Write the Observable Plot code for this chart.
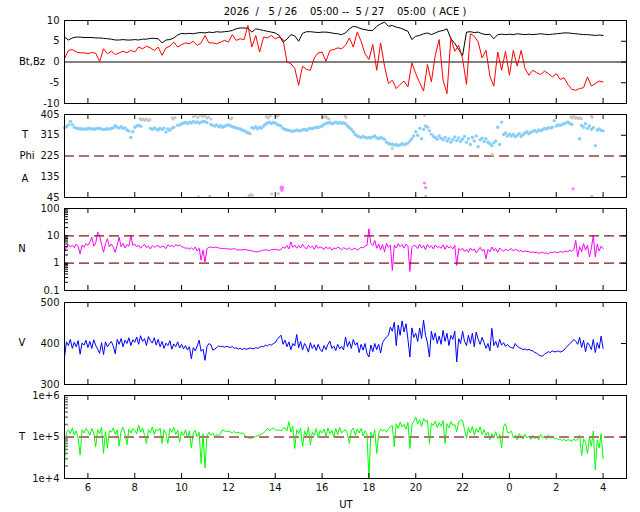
<!DOCTYPE html>
<html><head><meta charset="utf-8">
<script src="https://cdn.jsdelivr.net/npm/d3@7"></script>
<script src="https://cdn.jsdelivr.net/npm/@observablehq/plot@0.6"></script>
<style>
html,body{margin:0;padding:0;background:#fff;}
#root{position:relative;width:640px;height:512px;overflow:hidden;font-family:"DejaVu Sans",sans-serif;font-size:10px;color:#000;background:#fff;}
.lbl{position:absolute;white-space:pre;line-height:1;}
</style></head>
<body><div id="root"></div>
<script>
// ---------- time grid ----------
const startHour = 5;            // 05:00 UT on 5/26
const bStepMin = 10;            // magnetic field samples
const fineStepMin = 5;          // plasma samples
const xTicks = [6, 8, 10, 12, 14, 16, 18, 20, 22, 24, 26, 28];

// ---------- panel 1: Bt (black), Bz (red), nT ----------
const btValues = [
  6.0,5.3,5.8,6.0,6.0,5.9, 5.9,5.9,5.8,5.8,5.7,5.6, 5.5,5.3,5.3,5.4,5.3,5.3, 5.4,5.3,5.5,5.5,5.7,5.7,
  5.6,4.6,5.3,5.4,5.8,6.5, 6.9,6.8,6.9,6.8,7.0,7.1, 7.0,7.2,7.1,7.3,7.2,7.3, 7.4,7.6,8.0,8.2,8.2,8.1,
  7.2,8.0,7.8,7.6,7.4,7.2, 7.0,6.4,4.8,5.5,6.6,6.3, 5.0,6.9,7.3,7.3,7.2,7.1, 7.2,7.2,7.1,6.9,6.8,6.6,
  7.0,8.0,8.6,8.4,8.0,7.8, 7.6,7.6,8.6,9.2,9.6,8.6, 8.8,8.4,8.2,7.8,7.4,5.4, 6.2,6.4,6.8,7.0,6.6,7.0,
  7.4,7.6,8.0,5.6,4.5,3.0, 1.6,7.2,7.3,7.1,7.2,6.8, 6.6,6.7,5.6,6.6,6.7,6.6, 6.7,6.6,6.8,6.7,6.6,6.7,
  6.6,6.7,6.8,6.7,6.6,6.7, 6.8,6.9,7.0,7.0,6.9,6.8, 6.7,6.6,6.6,6.5,6.4,6.5, 6.4
];
const bzValues = [
  0.8,2.8,3.0,2.4,2.2,2.2, 2.0,2.3,2.1,0.1,3.2,2.0, 2.6,1.8,2.2,2.6,2.2,2.8, 2.4,3.6,3.2,3.8,3.4,2.8,
  3.6,1.6,3.4,3.8,4.8,3.6, 4.2,4.6,4.4,5.0,4.0,4.6, 6.4,4.6,4.6,4.4,4.8,5.2, 4.8,6.6,5.2,5.6,5.4,8.8,
  3.6,6.4,2.4,6.0,5.8,6.4, 5.6,6.0,5.4,0.0,-0.4,-1.5, -5.6,-1.0,-1.8,-2.0,1.0,2.2, 2.4,0.2,2.8,3.0,3.4,3.2,
  4.0,5.8,3.6,7.2,5.0,2.0, 0.6,4.2,-2.0,4.6,-1.0,-5.2, -4.4,-6.4,-5.4,-4.6,-6.0,-0.2, -2.8,-5.0,-7.0,-0.6,-4.8,1.6,
  5.4,-4.4,-7.6,5.8,2.6,4.0, 0.8,-5.4,6.8,6.2,4.8,1.0, 2.8,-3.4,-5.8,2.4,-2.0,2.6, -3.2,2.8,-1.0,2.8,-1.6,-3.2,
  -2.0,-2.6,-3.0,-2.2,-2.8,-3.6, -2.8,-4.2,-3.8,-5.4,-6.6,-6.8, -6.4,-6.2,-3.6,-5.8,-5.2,-4.6, -4.8
];
const bTicks = [-10, -5, 0, 5, 10];

// ---------- panel 2: Phi (deg) ----------
const phiValues = [
  348,352,360,375,362,350,346,344,342,343,341,342,
  343,344,342,341,343,345,344,342,340,341,343,342,
  344,347,356,350,346,352,345,348,338,333,305,330,
  350,355,357,354,null,null,null,null,345,340,347,342,
  338,344,340,346,329,342,336,345,350,null,358,360,
  365,368,370,366,372,368,375,370,373,368,372,376,
  374,370,null,362,358,355,360,352,356,350,354,357,
  360,356,352,350,347,345,342,338,335,330,326,322,
  348,345,352,343,350,346,355,362,368,372,366,370,
  368,362,358,355,345,340,338,336,334,332,335,338,
  334,336,338,340,337,342,345,343,347,350,348,352,
  355,362,366,368,370,365,368,372,367,370,366,369,
  365,355,348,340,330,318,312,308,305,310,306,303,
  306,303,308,312,304,300,305,302,298,285,280,276,
  276,272,275,270,273,278,274,277,281,290,300,312,
  330,315,345,300,340,355,350,335,320,310,305,298,
  312,302,295,305,290,300,285,296,308,292,303,288,
  298,310,285,300,275,305,290,312,265,295,302,288,
  300,285,278,270,282,290,350,275,372,318,325,312,
  320,312,318,308,315,322,310,318,325,330,322,328,
  332,336,330,338,334,340,344,342,348,346,350,378,
  355,360,357,362,365,368,372,366,362,null,null,null,
  300,358,350,365,345,355,340,348,270,338,342,336,
  334
];
const phiGrayTimes = [8.22,8.28,8.35,8.42,8.5,8.58,8.65,9.6,9.65,9.72,10.5,10.6,10.7,10.8,10.9,11.0,11.08,11.15,11.25,
  12.08,12.15,13.62,13.7,13.78,14.02,14.08,14.15,16.08,16.15,16.22,16.3,16.98,17.03,20.38,
  26.62,26.68,26.75,26.82,26.88,26.95,27.02,27.08,27.5,27.53,10.72,11.2,12.88,12.95,13.02,13.85,14.13,19.0,20.42,23.27,27.52];
const phiGrayValues = [388,382,385,380,386,378,382,390,386,392,395,400,392,402,396,399,390,394,386,
  386,390,396,390,398,401,397,403,393,397,390,386,398,392,402,
  394,390,397,389,392,388,391,387,400,393,48,52,53,58,55,60,62,257,50,232,50];
const phiPinkTimes = [14.24,14.27,14.3,14.32,14.28,20.37,20.42,26.72];
const phiPinkValues = [86,92,80,88,76,108,88,83];
const phiTicks = [45, 135, 225, 315, 405];

// ---------- panel 3: N (p/cc) ----------
const densityValues = [
  2.5,4.0,4.8,3.9,4.5,3.7,5.0,4.1,2.2,4.6,3.8,5.2,
  4.5,6.0,8.9,4.2,5.5,13.6,10.0,4.8,2.5,5.2,7.8,4.0,
  5.0,3.8,2.5,4.6,8.9,4.0,5.3,3.6,4.8,4.2,10.3,4.5,
  5.0,3.9,4.6,3.5,4.3,4.8,3.7,4.2,3.3,4.4,3.8,4.1,
  4.5,3.6,4.2,4.0,3.4,4.7,4.1,4.5,3.9,4.8,4.3,4.6,
  4.0,3.8,3.5,3.6,3.2,3.7,3.1,3.9,2.8,3.5,1.3,3.0,
  1.1,3.4,3.8,3.9,3.7,3.9,3.8,3.6,3.5,3.4,3.5,3.3,
  3.4,3.2,3.3,3.4,3.2,3.0,3.1,3.0,3.2,3.1,3.0,2.9,
  2.8,2.7,2.6,2.6,2.7,2.9,3.0,3.1,3.0,2.9,3.1,3.2,
  3.2,3.1,3.0,3.2,4.0,3.5,4.4,3.3,5.9,3.8,4.6,3.5,
  4.4,3.6,4.9,3.9,3.3,4.5,3.7,4.2,3.2,4.6,3.5,4.0,
  3.6,3.2,4.0,3.4,3.8,3.0,3.6,3.3,3.9,3.5,3.1,3.7,
  3.4,3.2,3.6,3.1,3.3,3.5,3.0,3.4,3.8,3.6,4.2,4.5,
  18,5.2,4.4,6.8,3.5,5.0,3.0,4.8,2.6,5.3,3.8,4.6,
  0.54,4.6,3.6,5.2,4.0,4.8,3.5,5.0,4.2,0.5,3.8,4.5,
  4.2,3.4,5.0,3.6,4.4,3.1,4.8,3.7,4.3,3.3,4.6,3.8,
  4.0,3.5,4.7,3.2,4.4,3.6,4.1,3.3,4.5,0.83,3.4,3.0,
  3.5,2.7,3.2,2.5,3.6,2.9,3.3,2.4,3.0,3.8,2.8,3.2,
  1.45,3.2,2.6,3.9,2.9,3.4,2.5,3.6,3.0,2.7,3.3,2.9,
  3.1,3.4,2.8,3.2,3.0,2.7,2.9,2.6,2.8,2.7,2.6,2.5,
  2.6,2.4,2.5,2.3,2.4,2.5,2.3,2.4,2.2,2.5,2.4,2.6,
  2.5,2.4,2.7,2.5,2.6,2.8,2.6,3.0,2.7,3.2,6.8,1.7,
  4.0,2.6,5.2,3.0,4.5,1.7,3.6,10.3,1.7,5.0,2.8,4.2,
  3.4
];
const nTicks = [0.1, 1, 10, 100];
const nMinorTicks = [0.2,0.3,0.4,0.5,0.6,0.7,0.8,0.9,1,2,3,4,5,6,7,8,9,10,20,30,40,50,60,70,80,90];
const nRefLines = [1, 10];

// ---------- panel 4: V (km/s) ----------
const speedValues = [
  367,404,395,410,388,403,392,407,374,401,396,408,
  390,405,388,409,395,386,376,402,373,404,392,399,
  405,394,375,410,398,412,392,408,400,414,395,409,
  403,416,398,419,405,412,395,417,407,401,414,396,
  410,392,405,388,401,395,407,386,399,392,404,389,
  398,387,395,384,392,363,390,382,394,408,381,386,
  359,392,400,397,384,386,390,394,392,393,391,393,
  392,390,393,388,390,386,389,385,388,386,387,389,
  388,387,390,388,391,393,392,396,394,398,396,400,
  402,410,416,420,398,408,392,404,385,400,394,422,
  390,405,384,400,392,379,402,388,397,383,398,386,
  380,395,385,398,406,388,394,383,398,387,393,384,
  416,392,405,388,410,396,402,378,398,384,400,376,
  367,396,380,400,385,398,377,402,410,416,420,440,
  430,452,395,445,420,455,428,448,410,367,438,415,
  425,405,438,412,457,420,402,367,430,408,426,400,
  418,398,432,405,425,395,420,410,430,355,412,400,
  430,405,395,420,400,425,392,428,410,398,415,402,
  388,400,382,437,395,405,390,410,396,402,393,398,
  392,390,388,400,393,390,388,385,387,384,386,383,
  382,378,376,372,370,369,374,377,380,378,382,380,
  380,382,379,381,384,390,395,400,404,410,405,398,
  415,390,408,380,402,396,385,410,378,402,388,418,
  388
];
const vTicks = [300, 400, 500];

// ---------- panel 5: T (thousands of K) ----------
const tempKiloK = [
  21,130,150,120,165,110,140,95,37,150,125,160,
  140,110,160,125,58,150,120,170,40,135,55,145,
  130,165,115,150,60,140,170,120,65,155,125,160,
  145,120,195,130,165,110,70,150,125,175,115,155,
  140,165,70,150,120,70,160,130,170,115,145,75,
  135,110,150,95,140,55,125,145,100,130,23,120,
  18,105,130,110,125,100,115,105,123,148,140,135,
  138,132,128,135,125,130,122,126,118,100,95,93,
  94,98,102,108,112,118,125,140,162,145,150,168,
  150,145,148,140,160,168,140,235,130,180,53,150,
  120,165,58,140,105,175,65,130,110,160,95,145,
  125,155,105,165,120,145,98,160,115,170,125,140,
  150,120,70,145,165,110,155,125,160,105,140,118,
  10,130,95,150,40,120,155,140,150,130,160,175,
  190,58,210,160,230,175,200,155,225,53,195,240,
  300,210,260,180,280,230,250,70,215,190,240,170,
  220,180,250,70,210,165,235,190,200,135,230,260,
  250,150,93,170,125,180,110,160,130,175,115,150,
  110,130,85,120,95,135,90,115,55,180,210,130,
  125,140,95,110,85,120,100,90,115,95,105,88,
  110,92,100,85,115,95,105,88,112,94,102,90,
  95,85,90,82,88,80,86,84,78,90,82,88,
  110,36,90,75,40,100,60,140,16,85,55,120,
  30
];
const tTicks = [1e4, 1e5, 1e6];
const tMinorTicks = [2e4,3e4,4e4,5e4,6e4,7e4,8e4,9e4,2e5,3e5,4e5,5e5,6e5,7e5,8e5,9e5];

// ---------- tables ----------
const bTable = btValues.map((bt, i) => ({t: startHour + i * bStepMin / 60, bt, bz: bzValues[i]}));
const fineTable = speedValues.map((v, i) => ({
  t: startHour + i * fineStepMin / 60, v, n: densityValues[i], temp: tempKiloK[i] * 1000, phi: phiValues[i]
}));
const grayTable = phiGrayTimes.map((t, i) => ({t, phi: phiGrayValues[i]}));
const pinkTable = phiPinkTimes.map((t, i) => ({t, phi: phiPinkValues[i]}));

// ---------- layout ----------
const root = document.getElementById("root");
const W = 640, ML = 64, MR = 14;
const plotW = W - ML - MR;

function addPanel(top, bottom, yOpts, yTicks, yFmt, marks, extra = {}) {
  const mt = 10, mb = extra.xLabels ? 26 : 10;
  const ph = bottom - top;
  const all = [
    ...marks,
    Plot.ruleX(xTicks, {x: d => d, insetBottom: ph - 5, stroke: "#000"}),
    Plot.ruleX(xTicks, {x: d => d, insetTop: ph - 5, stroke: "#000"}),
    Plot.ruleY(yTicks, {y: d => d, insetLeft: plotW - 5, stroke: "#000"}),
    ...(extra.leftTicks ? [Plot.ruleY(extra.leftTicks, {y: d => d, insetRight: plotW - 4, stroke: extra.leftTickColor || "#000", strokeWidth: extra.leftTickWidth || 1})] : []),
    Plot.frame({stroke: "#000", strokeWidth: 1}),
    Plot.text(yTicks, {y: d => d, text: yFmt, frameAnchor: "left", textAnchor: "end", dx: -5, fontSize: 10, fill: "#111"}),
    ...(extra.xLabels ? [Plot.text(xTicks, {x: d => d, text: d => String(d % 24), frameAnchor: "bottom", dy: 12, fontSize: 10, fill: "#111"})] : [])
  ];
  const svg = Plot.plot({
    width: W, height: ph + mt + mb,
    marginLeft: ML, marginRight: MR, marginTop: mt, marginBottom: mb,
    style: {background: "transparent", overflow: "visible", fontFamily: "DejaVu Sans", fontSize: "10px"},
    x: {domain: [5, 29], axis: null},
    y: {...yOpts, axis: null},
    marks: all
  });
  svg.style.position = "absolute";
  svg.style.left = "0px";
  svg.style.top = (top - mt) + "px";
  root.appendChild(svg);
}

function label(text, x, y, anchor = "middle") {
  const d = document.createElement("div");
  d.className = "lbl";
  d.textContent = text;
  d.style.left = x + "px";
  d.style.top = y + "px";
  d.style.transform = anchor === "middle" ? "translate(-50%,-50%)" : "translate(0,-50%)";
  root.appendChild(d);
}

// Panel 1
addPanel(20, 103, {domain: [-10, 10]}, bTicks, d => String(d), [
  Plot.ruleY([0], {stroke: "#808080", strokeWidth: 2}),
  Plot.line(bTable, {x: "t", y: "bt", stroke: "#000", strokeWidth: 1}),
  Plot.line(bTable, {x: "t", y: "bz", stroke: "#ff0000", strokeWidth: 1})
]);

// Panel 2
addPanel(114, 197, {domain: [45, 405]}, phiTicks, d => String(d), [
  Plot.ruleY([225], {stroke: "#b27272", strokeWidth: 2, strokeDasharray: "10,5"}),
  Plot.dot(grayTable, {x: "t", y: "phi", r: 1.5, fill: "#c4c4c4", stroke: "none", clip: true}),
  Plot.dot(fineTable.filter(d => d.phi != null), {x: "t", y: "phi", r: 1.7, fill: "#87cefa", stroke: "none"}),
  Plot.dot(pinkTable, {x: "t", y: "phi", r: 1.5, fill: "#ff77ff", stroke: "none"})
]);

// Panel 3
addPanel(208, 290, {type: "log", domain: [0.1, 100]}, nTicks, d => String(d), [
  Plot.line(fineTable, {x: "t", y: "n", stroke: "#ff00ff", strokeWidth: 1}),
  Plot.ruleY(nRefLines, {y: d => d, stroke: "#8b1010", strokeWidth: 1.3, strokeDasharray: "10,5"})
], {leftTicks: nMinorTicks});

// Panel 4
addPanel(302, 384, {domain: [300, 500]}, vTicks, d => String(d), [
  Plot.line(fineTable, {x: "t", y: "v", stroke: "#0000ff", strokeWidth: 1})
]);

// Panel 5
addPanel(395, 478, {type: "log", domain: [1e4, 1e6]}, tTicks, d => d3.format(".0e")(d), [
  Plot.line(fineTable, {x: "t", y: "temp", stroke: "#00ff00", strokeWidth: 1}),
  Plot.ruleY([1e5], {stroke: "#b27272", strokeWidth: 2, strokeDasharray: "10,5"})
], {xLabels: true, leftTicks: tMinorTicks, leftTickColor: "#777", leftTickWidth: 1.5});

// Text labels
label("2026  /   5 / 26    05:00 --  5 / 27    05:00  ( ACE )", 345, 12);
label("Bt,Bz", 19, 62, "start");
label("T", 25, 135);
label("Phi", 27, 156);
label("A", 25, 179);
label("N", 22, 249);
label("V", 22, 343);
label("T", 22, 437);
label("UT", 346, 505);
</script>
</body></html>
